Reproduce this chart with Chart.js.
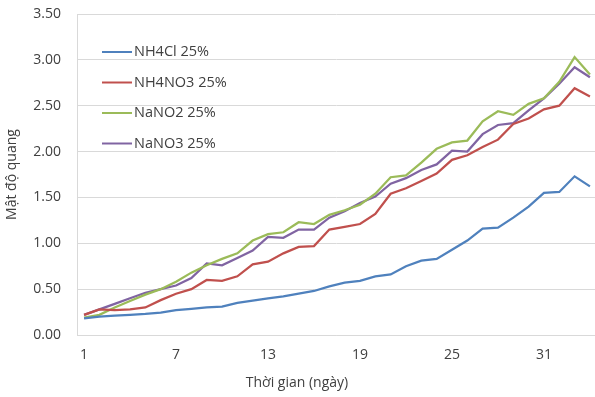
<!DOCTYPE html>
<html>
<head>
<meta charset="utf-8">
<script src="https://cdn.jsdelivr.net/npm/chart.js@4/dist/chart.umd.min.js"></script>
<style>
  html, body { margin: 0; padding: 0; background: #fff; overflow: hidden; }
  #wrap { width: 595px; height: 397px; }
</style>
</head>
<body>
<div id="wrap"><canvas id="myChart"></canvas></div>
<script>
const days = [];
for (let d = 1; d <= 34; d++) days.push(d);

const nh4cl = [0.18, 0.20, 0.21, 0.22, 0.23, 0.245, 0.27, 0.285, 0.30, 0.31, 0.35, 0.375, 0.40, 0.42, 0.45, 0.48, 0.53,
  0.57, 0.59, 0.64, 0.66, 0.75, 0.81, 0.83, 0.93, 1.03, 1.16, 1.17, 1.28, 1.40, 1.55, 1.56, 1.73, 1.62];
const nh4no3 = [0.22, 0.28, 0.27, 0.28, 0.30, 0.38, 0.45, 0.50, 0.60, 0.59, 0.64, 0.77, 0.80, 0.89, 0.96, 0.97, 1.15,
  1.18, 1.21, 1.32, 1.54, 1.60, 1.68, 1.76, 1.91, 1.96, 2.05, 2.13, 2.30, 2.36, 2.46, 2.50, 2.69, 2.60];
const nano2 = [0.19, 0.22, 0.30, 0.37, 0.44, 0.50, 0.58, 0.68, 0.76, 0.83, 0.89, 1.03, 1.10, 1.12, 1.23, 1.21, 1.31,
  1.36, 1.42, 1.54, 1.72, 1.74, 1.88, 2.03, 2.10, 2.12, 2.33, 2.44, 2.40, 2.52, 2.58, 2.76, 3.03, 2.84];
const nano3 = [0.22, 0.28, 0.34, 0.40, 0.46, 0.50, 0.54, 0.62, 0.78, 0.76, 0.84, 0.92, 1.07, 1.06, 1.15, 1.15, 1.28,
  1.35, 1.44, 1.51, 1.65, 1.71, 1.80, 1.86, 2.01, 2.00, 2.19, 2.29, 2.31, 2.45, 2.58, 2.74, 2.92, 2.81];

const seriesNames = ["NH4Cl 25%", "NH4NO3 25%", "NaNO2 25%", "NaNO3 25%"];
const seriesColors = ["#4F81BD", "#C0504D", "#9BBB59", "#8064A2"];
const xTicks = [1, 7, 13, 19, 25, 31];
const xTitle = "Thời gian (ngày)";
const yTitle = "Mật độ quang";

const FONT = "'Open Sans', 'Noto Sans', sans-serif";
const TEXT = "#404040";

function toPoints(vals) {
  return vals.map((v, i) => ({ x: days[i], y: v }));
}

const allSeries = [nh4cl, nh4no3, nano2, nano3];

// legend inside the plot, plus x title centred on the whole picture
const extras = {
  id: "extras",
  afterDraw(chart) {
    const ctx = chart.ctx;
    ctx.save();
    ctx.font = "14.5px " + FONT;
    ctx.textBaseline = "middle";
    chart.data.datasets.forEach((ds, i) => {
      const y = 52 + i * 30.5;
      ctx.strokeStyle = ds.borderColor;
      ctx.lineWidth = 2;
      ctx.beginPath();
      ctx.moveTo(102, y);
      ctx.lineTo(132, y);
      ctx.stroke();
      ctx.fillStyle = TEXT;
      ctx.fillText(ds.label, 134, y);
    });
    ctx.font = "14px " + FONT;
    ctx.textAlign = "center";
    ctx.fillText(xTitle, 297, 383);
    ctx.restore();
  }
};

new Chart("myChart", {
  type: "line",
  data: {
    datasets: allSeries.map((vals, i) => ({
      label: seriesNames[i],
      data: toPoints(vals),
      borderColor: seriesColors[i],
      backgroundColor: seriesColors[i],
      borderWidth: 2.25,
      pointRadius: 0,
      fill: false,
      tension: 0,
    })),
  },
  options: {
    responsive: true,
    maintainAspectRatio: false,
    animation: false,
    layout: { padding: { top: 14, right: 0, left: 0, bottom: 0 } },
    plugins: {
      legend: { display: false },
      tooltip: { enabled: false },
    },
    scales: {
      x: {
        type: "linear",
        min: 0.54,
        max: 34.33,
        afterBuildTicks(axis) {
          axis.ticks = xTicks.map(v => ({ value: v }));
        },
        afterFit(axis) {
          axis.height = 62;
          axis.paddingLeft = 0;
          axis.paddingRight = 0;
        },
        grid: { display: false, drawTicks: false },
        border: { display: true, color: "#d9d9d9", width: 1 },
        ticks: {
          padding: 12,
          maxRotation: 0,
          color: TEXT,
          font: { family: FONT, size: 14 },
        },
      },
      y: {
        min: 0,
        max: 3.5,
        afterFit(axis) {
          axis.width = 77;
          axis.paddingTop = 0;
          axis.paddingBottom = 0;
        },
        grid: { color: "#d9d9d9", lineWidth: 1, drawTicks: false },
        border: { display: true, color: "#d9d9d9", width: 1 },
        ticks: {
          stepSize: 0.5,
          padding: 16,
          color: TEXT,
          font: { family: FONT, size: 14 },
          callback: v => v.toFixed(2),
        },
        title: {
          display: true,
          text: yTitle,
          color: TEXT,
          font: { family: FONT, size: 14 },
          padding: { bottom: 2 },
        },
      },
    },
  },
  plugins: [extras],
});
</script>
</body>
</html>
